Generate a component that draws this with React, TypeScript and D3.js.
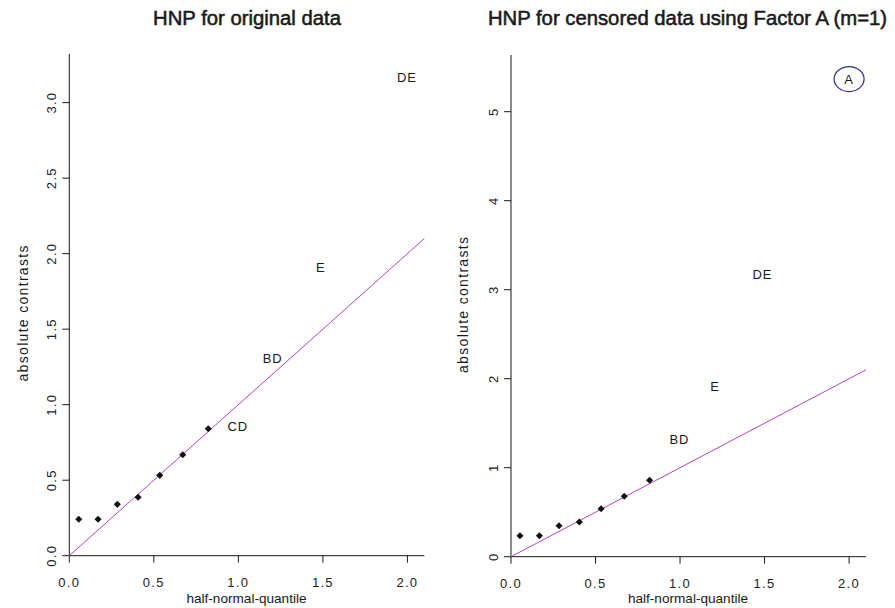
import React from "react";
import * as d3 from "d3";

// ---- data ----
const leftPointX = [0.056, 0.170, 0.284, 0.407, 0.535, 0.671, 0.822];
const leftPointY = [0.241, 0.241, 0.340, 0.387, 0.532, 0.669, 0.841];
const leftLabels = ["CD", "BD", "E", "DE"];
const leftLabelX = [0.996, 1.202, 1.488, 1.997];
const leftLabelY = [0.854, 1.307, 1.907, 3.169];
const leftYTicks = [0, 0.5, 1, 1.5, 2, 2.5, 3];

const rightPointX = [0.053, 0.168, 0.284, 0.404, 0.533, 0.670, 0.820];
const rightPointY = [0.236, 0.236, 0.348, 0.390, 0.539, 0.679, 0.858];
const rightLabels = ["BD", "E", "DE", "A"];
const rightLabelX = [0.996, 1.207, 1.487, 2.0];
const rightLabelY = [1.319, 1.918, 3.176, 5.367];
const rightYTicks = [0, 1, 2, 3, 4, 5];

const xTicks = [0, 0.5, 1, 1.5, 2];
const refLineX = [0, 2.1];
const refLineY = [0, 2.1];

const FONT = "'Liberation Sans', Arial, sans-serif";
const INK = "#1a1a1a";
const LINE = "#b444bc";

type PanelProps = {
  title: string;
  left: number; right: number; top: number; bottom: number;
  yMax: number;
  yTicks: number[];
  yFmt: (v: number) => string;
  px: number[]; py: number[];
  labels: string[]; lx: number[]; ly: number[];
  titleX: number;
  xLabelX: number;
  yLabelX: number; yLabelY: number;
  circled?: string;
};

function Panel(p: PanelProps) {
  const x = d3.scaleLinear().domain([0, 2.1]).range([p.left, p.right]);
  const y = d3.scaleLinear().domain([0, p.yMax]).range([p.bottom, p.top]);
  const line = d3.line<number>().x((d) => x(d)).y((_, i) => y(refLineY[i]));
  const diamond = d3.symbol().type(d3.symbolSquare).size(25)();
  const tickFont = { fontFamily: FONT, fontSize: 13, letterSpacing: "1.3px", fill: "#222" } as any;
  return (
    <g>
      <text x={p.titleX} y={25} textAnchor="middle" fontFamily={FONT} fontSize={20.3} fill={INK}
        stroke={INK} strokeWidth={0.55}>
        {p.title}
      </text>
      {/* axes */}
      <line x1={p.left} x2={p.right} y1={p.bottom} y2={p.bottom} stroke={INK} strokeWidth={1} />
      <line x1={p.left} x2={p.left} y1={p.top} y2={p.bottom} stroke={INK} strokeWidth={1} />
      {xTicks.map((t) => (
        <g key={"x" + t}>
          <line x1={x(t)} x2={x(t)} y1={p.bottom} y2={p.bottom + 7} stroke={INK} />
          <text x={x(t)} y={p.bottom + 31.5} textAnchor="middle" {...tickFont}>
            {d3.format(".1f")(t)}
          </text>
        </g>
      ))}
      {p.yTicks.map((t) => (
        <g key={"y" + t}>
          <line x1={p.left - 7} x2={p.left} y1={y(t)} y2={y(t)} stroke={INK} />
          <text
            transform={`translate(${p.left - 13.5},${y(t)}) rotate(-90)`}
            textAnchor="middle"
            {...tickFont}
          >
            {p.yFmt(t)}
          </text>
        </g>
      ))}
      <text x={p.xLabelX} y={602.5} textAnchor="middle" fontFamily={FONT} fontSize={13.6} fill={INK}>
        half-normal-quantile
      </text>
      <text
        transform={`translate(${p.yLabelX},${p.yLabelY}) rotate(-90)`}
        textAnchor="middle"
        fontFamily={FONT}
        fontSize={14}
        fill={INK}
        textLength={136}
        lengthAdjust="spacing"
      >
        absolute contrasts
      </text>
      {/* reference line */}
      <path d={line(refLineX) || ""} fill="none" stroke={LINE} strokeWidth={1} />
      {/* points */}
      {p.px.map((v, i) => (
        <path key={"p" + i} d={diamond || ""} transform={`translate(${x(v)},${y(p.py[i])}) rotate(45)`} fill="#111" />
      ))}
      {/* labels */}
      {p.labels.map((lab, i) => (
        <g key={"l" + i}>
          <text x={x(p.lx[i])} y={y(p.ly[i]) + 4.6} textAnchor="middle" fontFamily={FONT} fontSize={13} letterSpacing="0.8px" fill={INK}>
            {lab}
          </text>
          {p.circled === lab && (
            <ellipse cx={x(p.lx[i])} cy={y(p.ly[i])} rx={15} ry={12.5} fill="none" stroke="#2e2e80" strokeWidth={1.2} />
          )}
        </g>
      ))}
    </g>
  );
}

export default function App() {
  return (
    <svg width={895} height={608} style={{ position: "absolute", left: 0, top: 0, background: "#fff" }}>
      <rect width={895} height={608} fill="#fff" />
      <Panel
        title="HNP for original data"
        left={69.3} right={424.3} top={54} bottom={555.7}
        yMax={3.322}
        yTicks={leftYTicks}
        yFmt={d3.format(".1f")}
        px={leftPointX} py={leftPointY}
        labels={leftLabels} lx={leftLabelX} ly={leftLabelY}
        titleX={247}
        xLabelX={246.5}
        yLabelX={28} yLabelY={313.5}
      />
      <Panel
        title="HNP for censored data using Factor A (m=1)"
        left={511} right={866} top={55} bottom={556.7}
        yMax={5.637}
        yTicks={rightYTicks}
        yFmt={d3.format("d")}
        px={rightPointX} py={rightPointY}
        labels={rightLabels} lx={rightLabelX} ly={rightLabelY}
        titleX={687.5}
        xLabelX={688}
        yLabelX={467.7} yLabelY={305}
        circled="A"
      />
    </svg>
  );
}
